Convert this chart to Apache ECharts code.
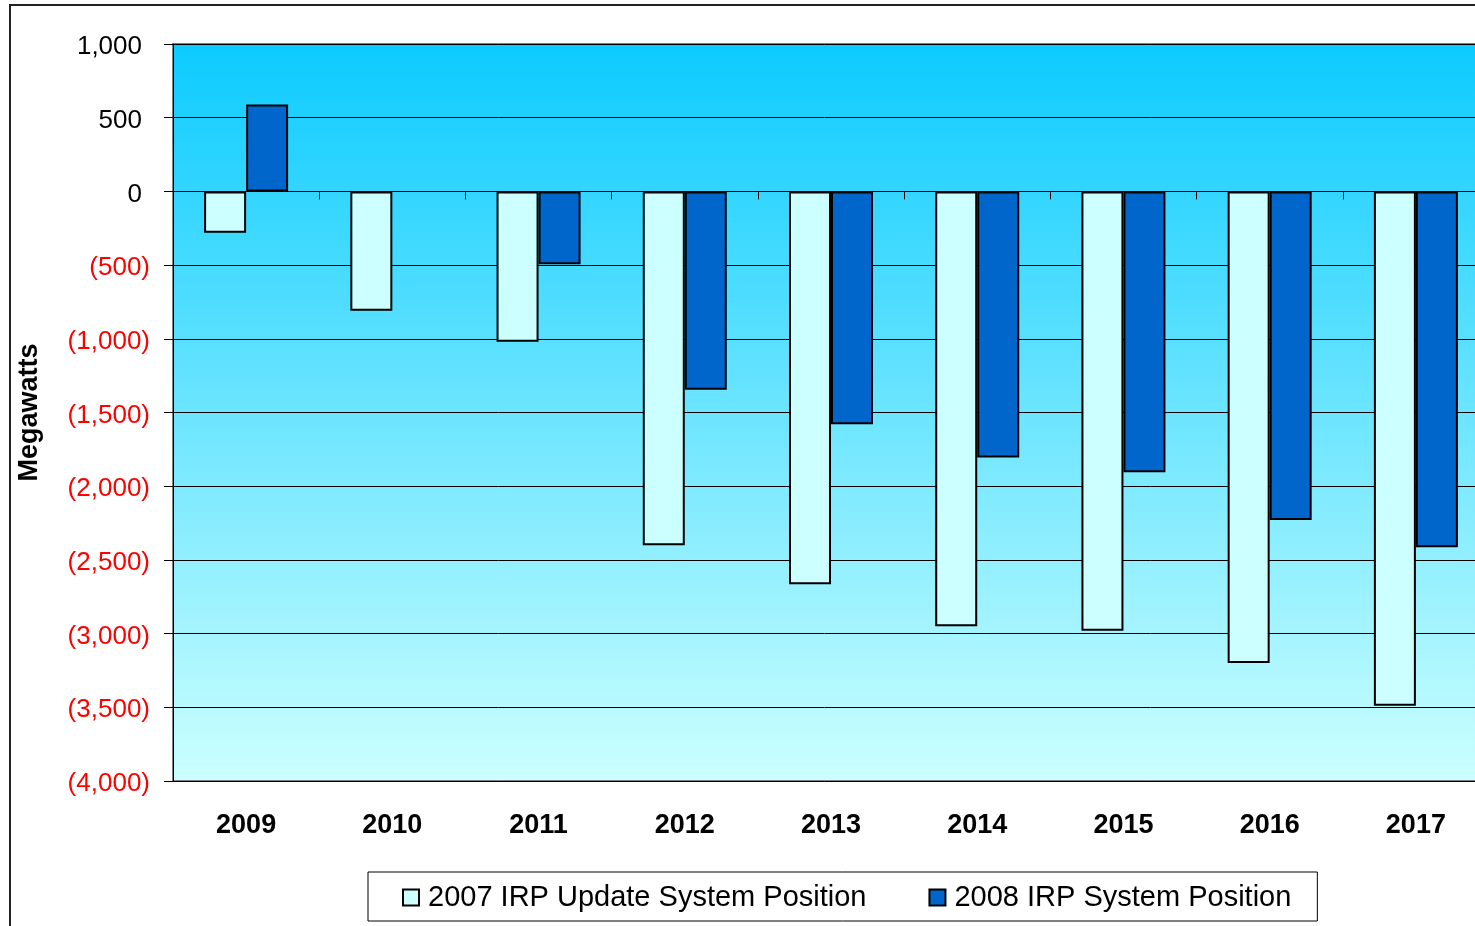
<!DOCTYPE html>
<html>
<head>
<meta charset="utf-8">
<script src="https://cdn.jsdelivr.net/npm/echarts@6/dist/echarts.min.js"></script>
<style>
  html, body { margin: 0; padding: 0; background: #fff; }
  #chart { width: 1475px; height: 926px; }
</style>
</head>
<body>
<div id="chart"></div>
<script>
const years = ['2009', '2010', '2011', '2012', '2013', '2014', '2015', '2016', '2017'];
const irp2007 = [-280, -810, -1020, -2400, -2665, -2950, -2980, -3200, -3490];
const irp2008 = [590, null, -495, -1345, -1580, -1805, -1905, -2230, -2415];
const seriesNames = ['2007 IRP Update System Position', '2008 IRP System Position'];

const chart = echarts.init(document.getElementById('chart'));

function fmt(v) {
  return Math.abs(v).toLocaleString('en-US');
}

chart.setOption({
  animation: false,
  textStyle: { fontFamily: 'Liberation Sans, Arial, sans-serif' },
  graphic: [
    {
      type: 'rect',
      shape: { x: 10, y: 5, width: 1600, height: 1000 },
      style: { fill: 'none', stroke: '#222', lineWidth: 2 },
      z: 100
    }
  ],
  grid: {
    left: 173,
    top: 44,
    width: 1316,
    height: 737,
    outerBoundsMode: 'none',
    show: true,
    borderColor: '#808080',
    borderWidth: 2,
    backgroundColor: {
      type: 'linear', x: 0, y: 0, x2: 0, y2: 1,
      colorStops: [
        { offset: 0, color: '#0ccbff' },
        { offset: 1, color: '#ccffff' }
      ]
    }
  },
  legend: {
    left: 368,
    top: 872,
    data: seriesNames,
    icon: 'rect',
    itemWidth: 16,
    itemHeight: 16,
    itemGap: 62,
    padding: [11, 26, 9, 34],
    borderColor: '#000',
    borderWidth: 1,
    backgroundColor: '#fff',
    textStyle: {
      fontSize: 29, color: '#000', padding: [0, 0, 0, 4],
      fontFamily: 'Liberation Sans, Arial, sans-serif'
    }
  },
  xAxis: [
    {
      type: 'category',
      data: years,
      position: 'bottom',
      axisLine: { show: false, onZero: false },
      axisTick: { show: false },
      axisLabel: { fontSize: 27, fontWeight: 'bold', color: '#000', margin: 31 }
    },
    {
      type: 'category',
      data: years,
      position: 'bottom',
      axisLine: { show: true, onZero: true, lineStyle: { color: '#000', width: 1 } },
      axisTick: { show: true, length: 8, lineStyle: { color: '#000' } },
      axisLabel: { show: false }
    }
  ],
  yAxis: {
    type: 'value',
    min: -4000,
    max: 1000,
    interval: 500,
    name: 'Megawatts',
    nameLocation: 'middle',
    nameGap: 130,
    nameTextStyle: { fontSize: 27, fontWeight: 'bold', color: '#000' },
    axisLine: { show: true, lineStyle: { color: '#000', width: 1 } },
    axisTick: { show: true, length: 9, lineStyle: { color: '#000' } },
    splitLine: { show: true, lineStyle: { color: '#000', width: 1 } },
    axisLabel: {
      margin: 23,
      formatter: function (v) {
        return v < 0 ? '{n|(' + fmt(v) + ')}' : '{p|' + fmt(v) + '}';
      },
      rich: {
        n: { fontSize: 26, color: '#ff0000', padding: [6, 0, 0, 0] },
        p: { fontSize: 26, color: '#000', padding: [6, 8, 0, 0] }
      }
    }
  },
  series: [
    {
      name: seriesNames[0],
      type: 'bar',
      data: irp2007,
      barWidth: 42,
      barGap: '0%',
      itemStyle: { color: '#ccffff', borderColor: '#000', borderWidth: 2 }
    },
    {
      name: seriesNames[1],
      type: 'bar',
      data: irp2008,
      barWidth: 42,
      barGap: '0%',
      itemStyle: { color: '#0066cc', borderColor: '#000', borderWidth: 2 }
    }
  ]
});
</script>
</body>
</html>
